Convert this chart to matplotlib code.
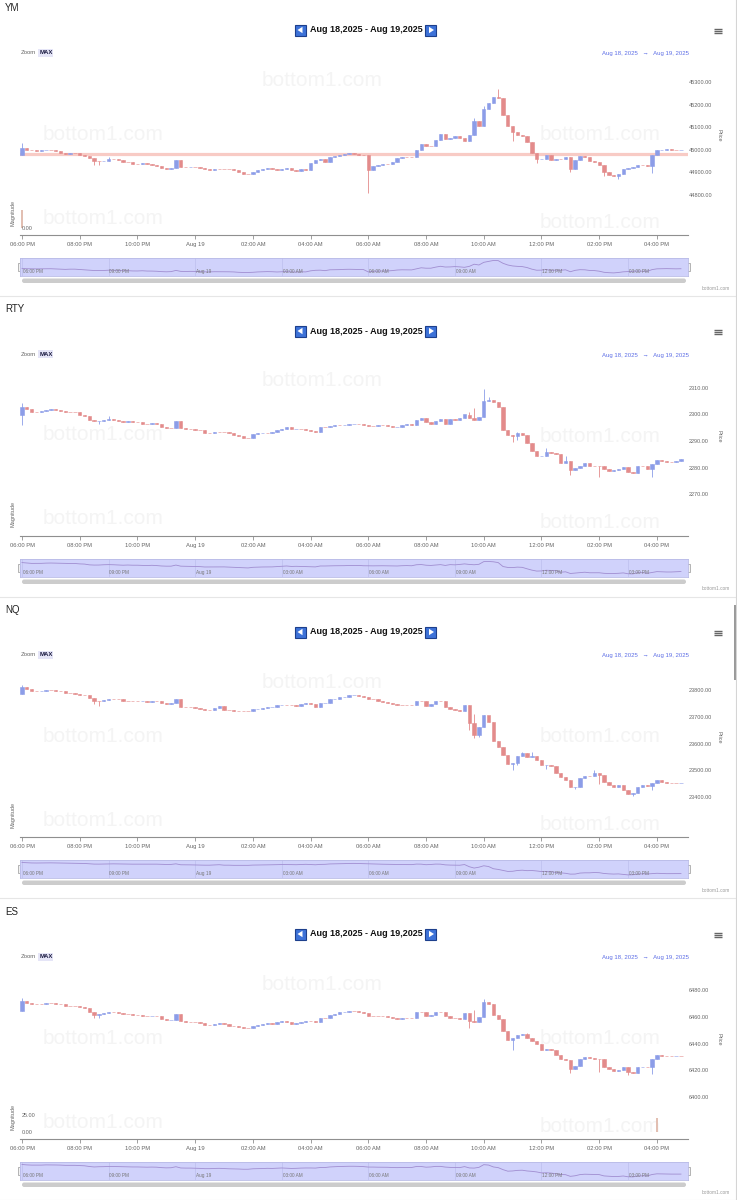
import numpy as np
import matplotlib
matplotlib.use("Agg")
import matplotlib.pyplot as plt
from matplotlib.patches import Rectangle, FancyBboxPatch, Polygon
from matplotlib.ticker import FixedLocator, FuncFormatter

W, H = 737, 1200
plt.rcParams['font.family'] = ['Liberation Sans', 'DejaVu Sans']

BLUE = "#8c9de8"
RED = "#e38b8b"
GREY = "#666666"

# x axis (hours after 06:00 PM, 10 minute candles)
hour_ticks = [0, 2, 4, 6, 8, 10, 12, 14, 16, 18, 20, 22]
hour_labels = ["06:00 PM", "08:00 PM", "10:00 PM", "Aug 19", "02:00 AM", "04:00 AM",
               "06:00 AM", "08:00 AM", "10:00 AM", "12:00 PM", "02:00 PM", "04:00 PM"]
nav_ticks = [0, 3, 6, 9, 12, 15, 18, 21]
nav_labels = ["06:00 PM", "09:00 PM", "Aug 19", "03:00 AM", "06:00 AM", "09:00 AM",
              "12:00 PM", "03:00 PM"]

# ---------------- YM ----------------
ym_open0 = 44975
ym_close = [45010, 45000, 44997, 44996, 44997, 45000, 45000, 44994, 44988, 44982,
            44988, 44988, 44979, 44973, 44962, 44950, 44950, 44951, 44959, 44959,
            44954, 44945, 44945, 44938, 44937, 44943, 44935, 44934, 44929, 44919,
            44914, 44919, 44953, 44926, 44923, 44926, 44925, 44919, 44913, 44911,
            44916, 44916, 44914, 44914, 44910, 44900, 44895, 44895, 44900, 44910,
            44914, 44919, 44916, 44909, 44914, 44920, 44909, 44906, 44913, 44911,
            44941, 44956, 44960, 44946, 44970, 44972, 44975, 44982, 44985, 44982,
            44979, 44976, 44910, 44928, 44934, 44937, 44937, 44948, 44964, 44970,
            44967, 44967, 44997, 45027, 45015, 45015, 45045, 45069, 45048, 45051,
            45060, 45052, 45040, 45067, 45127, 45105, 45180, 45207, 45232, 45228,
            45153, 45105, 45078, 45067, 45060, 45033, 44988, 44958, 44961, 44979,
            44955, 44961, 44958, 44970, 44916, 44955, 44973, 44970, 44952, 44948,
            44931, 44900, 44889, 44883, 44895, 44913, 44919, 44925, 44934, 44931,
            44928, 44976, 44997, 45000, 45003, 45000, 44997, 45000]
ym_wicks = [(0, 45030, None), (15, None, 44932), (16, None, 44932), (18, 44968, None),
            (72, None, 44808), (94, 45140, None), (96, 45195, None), (99, 45269, None),
            (102, None, 45040), (107, None, 44943), (114, None, 44900), (121, None, 44885),
            (124, None, 44870), (131, None, 44898)]
ym_ticks = [44800, 44900, 45000, 45100, 45200, 45300]
ym_ref = 44980
ym_mag = [(0, 26)]

# ---------------- RTY ----------------
rty_open0 = 2300.0
rty_close = [2302.9, 2301.9, 2301.1, 2301.1, 2301.2, 2301.7, 2301.9, 2301.6, 2301.2, 2300.9,
             2300.9, 2300.9, 2300.0, 2299.6, 2297.9, 2297.4, 2297.5, 2298.1, 2298.4, 2298.1,
             2297.5, 2297.1, 2297.5, 2297.1, 2297.1, 2296.6, 2296.3, 2296.9, 2296.3, 2295.4,
             2295.0, 2295.0, 2297.4, 2295.0, 2294.7, 2294.4, 2294.2, 2294.0, 2293.2, 2293.2,
             2293.4, 2293.4, 2293.4, 2292.9, 2292.3, 2291.7, 2291.3, 2291.1, 2292.5, 2292.9,
             2293.2, 2293.2, 2293.4, 2294.0, 2294.7, 2295.4, 2294.4, 2294.7, 2294.4, 2294.2,
             2293.8, 2293.4, 2295.4, 2295.4, 2295.7, 2295.9, 2295.9, 2296.1, 2296.5, 2296.6,
             2296.6, 2295.9, 2295.7, 2295.7, 2295.9, 2295.9, 2295.7, 2295.3, 2295.4, 2296.0,
             2296.3, 2295.9, 2298.1, 2298.6, 2297.1, 2296.6, 2297.5, 2298.4, 2296.6, 2298.4,
             2297.9, 2298.8, 2300.0, 2298.8, 2298.1, 2299.1, 2305.0, 2305.3, 2304.6, 2302.9,
             2294.2, 2292.2, 2291.9, 2292.9, 2292.4, 2289.2, 2286.3, 2284.2, 2284.5, 2286.0,
             2285.5, 2285.1, 2281.7, 2282.6, 2278.9, 2279.8, 2280.7, 2281.7, 2280.5, 2280.5,
             2280.5, 2279.3, 2278.8, 2278.9, 2279.3, 2280.2, 2278.3, 2278.0, 2280.7, 2280.7,
             2279.3, 2281.2, 2283.0, 2282.5, 2282.2, 2282.2, 2282.6, 2283.2]
rty_wicks = [(0, 2304.3, 2296.0), (16, None, 2296.3), (18, 2299.5, None), (93, 2300.8, None),
             (94, 2302.5, None), (96, 2309.6, None), (97, 2306.5, None), (102, None, 2289.8),
             (103, 2293.5, 2290.5), (109, 2287.5, None), (113, 2284.2, None),
             (114, None, 2277.0), (120, None, 2276.4), (131, None, 2276.4)]
rty_ticks = [2270, 2280, 2290, 2300, 2310]

# ---------------- NQ ----------------
nq_open0 = 23785
nq_close = [23812, 23805, 23797, 23795, 23797, 23801, 23800, 23797, 23797, 23790,
            23790, 23785, 23780, 23780, 23769, 23760, 23759, 23763, 23768, 23768,
            23765, 23760, 23760, 23758, 23758, 23760, 23755, 23760, 23758, 23753,
            23748, 23750, 23768, 23738, 23738, 23735, 23731, 23730, 23725, 23725,
            23733, 23740, 23725, 23725, 23720, 23720, 23720, 23720, 23728, 23730,
            23733, 23735, 23738, 23743, 23745, 23745, 23743, 23740, 23748, 23753,
            23746, 23738, 23750, 23753, 23765, 23768, 23773, 23775, 23781, 23783,
            23778, 23773, 23768, 23765, 23760, 23756, 23753, 23748, 23745, 23745,
            23745, 23743, 23760, 23758, 23740, 23748, 23760, 23758, 23735, 23728,
            23725, 23723, 23745, 23675, 23632, 23660, 23706, 23682, 23610, 23588,
            23557, 23523, 23528, 23553, 23563, 23548, 23553, 23538, 23519, 23521,
            23516, 23491, 23476, 23463, 23436, 23438, 23470, 23478, 23478, 23488,
            23482, 23457, 23445, 23438, 23443, 23428, 23411, 23416, 23438, 23445,
            23441, 23453, 23463, 23456, 23451, 23451, 23451, 23453]
nq_wicks = [(0, 23818, None), (15, None, 23748), (16, None, 23740), (93, None, 23650),
            (94, 23710, 23620), (95, None, 23625), (97, 23695, None), (102, None, 23500),
            (103, None, 23520), (104, 23570, None), (106, 23570, None), (109, None, 23505),
            (115, None, 23430), (119, 23500, None), (120, None, 23450), (127, None, 23405),
            (131, None, 23425)]
nq_ticks = [23400, 23500, 23600, 23700, 23800]

# ---------------- ES ----------------
es_open0 = 6464.5
es_close = [6471.9, 6470.1, 6469.2, 6469.2, 6469.2, 6470.1, 6470.1, 6469.7, 6469.2, 6468.2,
            6468.2, 6468.2, 6467.2, 6466.2, 6463.2, 6461.2, 6462.2, 6462.5, 6463.5, 6463.2,
            6462.7, 6462.0, 6461.7, 6461.2, 6461.2, 6460.7, 6460.2, 6460.7, 6460.2, 6458.3,
            6457.3, 6457.8, 6462.2, 6456.8, 6456.3, 6456.3, 6455.8, 6455.0, 6453.8, 6453.8,
            6454.8, 6455.3, 6454.3, 6453.3, 6452.8, 6452.3, 6451.3, 6451.3, 6453.3, 6453.8,
            6454.3, 6455.3, 6454.8, 6455.8, 6456.8, 6455.8, 6454.8, 6455.3, 6456.3, 6456.8,
            6456.8, 6456.3, 6458.8, 6458.8, 6461.2, 6462.2, 6463.2, 6463.7, 6464.2, 6464.2,
            6463.7, 6462.7, 6460.7, 6460.7, 6460.2, 6460.2, 6459.8, 6458.8, 6458.3, 6458.8,
            6458.8, 6458.8, 6463.2, 6463.2, 6460.2, 6461.2, 6463.7, 6463.7, 6460.7, 6459.3,
            6458.8, 6458.3, 6462.7, 6457.0, 6456.3, 6459.5, 6471.1, 6469.4, 6461.2, 6458.3,
            6449.6, 6442.9, 6443.9, 6446.4, 6447.1, 6443.9, 6442.2, 6439.7, 6435.5, 6436.0,
            6434.8, 6431.5, 6428.6, 6427.8, 6420.6, 6423.1, 6428.1, 6429.8, 6429.1, 6428.6,
            6428.1, 6422.4, 6421.1, 6419.7, 6420.1, 6422.1, 6418.7, 6418.2, 6422.1, 6422.6,
            6422.4, 6428.6, 6431.5, 6431.0, 6430.5, 6430.3, 6430.5, 6430.3]
es_wicks = [(0, 6474.0, None), (15, None, 6458.8), (16, None, 6458.8), (93, 6463.0, 6451.3),
            (94, 6465.0, None), (96, 6473.5, None), (97, 6471.0, None), (102, None, 6435.1),
            (105, 6448.0, None), (114, None, 6418.0), (120, None, 6418.5), (126, None, 6416.3),
            (131, None, 6417.3)]
es_ticks = [6400, 6420, 6440, 6460, 6480]
es_mag = [(132, 20)]

PX_PER_HOUR = 28.86
XLIM = (-2 / PX_PER_HOUR, 666 / PX_PER_HOUR)

fig = plt.figure(figsize=(W / 100, H / 100), dpi=100)
ui = fig.add_axes([0, 0, 1, 1], zorder=-1)
ui.set_xlim(0, W)
ui.set_ylim(H, 0)
ui.axis("off")


def box(left, top, right, bottom):
    return [left / W, 1 - bottom / H, (right - left) / W, (bottom - top) / H]


def lim_from(va, ya, vb, yb, top, bottom):
    # value va sits at pixel row ya, vb at yb; return (ymin, ymax) for an axes top..bottom
    k = (va - vb) / (yb - ya)
    return vb - (bottom - yb) * k, va + (ya - top) * k


def header(off, name):
    ui.text(5, off + 8, name, fontsize=7, color="#222", va="center")
    ui.text(366, off + 30, "Aug 18,2025 - Aug 19,2025", fontsize=6.5, fontweight="bold",
            ha="center", va="center", color="#111")
    for x0, pts in [(295, [(297.5, 30), (302.5, 26.8), (302.5, 33.2)]),
                    (425.5, [(434, 30), (429, 26.8), (429, 33.2)])]:
        ui.add_patch(Rectangle((x0, off + 24.5), 11, 11, facecolor="#3d72d8",
                               edgecolor="#1d3f8c", lw=0.8))
        ui.add_patch(Polygon([(px, off + py) for px, py in pts], closed=True,
                             facecolor="white", edgecolor="none"))
    for yy in (28.5, 30.8, 33.1):
        ui.plot([714, 722], [off + yy] * 2, color=GREY, lw=1.0, solid_capstyle="butt")
    ui.text(21, off + 53, "Zoom", fontsize=4.3, color=GREY, va="center")
    ui.add_patch(Rectangle((38, off + 49), 15, 8, facecolor="#e5e5f7", edgecolor="none"))
    ui.text(39.3, off + 53, "MAX", fontsize=4.3, fontweight="bold", color="#1a1a40",
            va="center")
    ui.text(689, off + 54, "Aug 18, 2025   \u2192   Aug 19, 2025", fontsize=4.3,
            color="#5d6ee6", ha="right", va="center",
            family=["Liberation Sans", "DejaVu Sans"])
    for wx, wy in [(322, 80), (103, 134), (600, 135), (103, 218), (600, 222)]:
        ui.text(wx, off + wy, "bottom1.com", fontsize=15, color="#f4f4f4",
                ha="center", va="center")
    ui.plot([0, W], [off + 295.5] * 2, color="#e6e6e6", lw=0.8)


def panel(off, name, open0, close, wicks, ticks, tick_px, ref=None, mag=None, mag_ticks=()):
    header(off, name)
    c = np.array(close, dtype=float)
    o = np.r_[open0, c[:-1]]
    hi = np.maximum(o, c)
    lo = np.minimum(o, c)
    for i, h, l in wicks:
        if h is not None:
            hi[i] = h
        if l is not None:
            lo[i] = l
    t = np.arange(len(c)) / 6.0
    col = np.where(c > o, BLUE, RED)

    ax = fig.add_axes(box(20, off + 62, 688, off + 205))
    ax.patch.set_visible(False)
    for s in ax.spines.values():
        s.set_visible(False)
    ax.set_xlim(*XLIM)
    ax.set_ylim(*lim_from(ticks[-1], off + tick_px[0], ticks[0], off + tick_px[1],
                          off + 62, off + 205))
    if ref is not None:
        ax.axhline(ref, color="#f8cbc5", lw=2.3, zorder=1)
    ax.vlines(t, lo, hi, colors=col, lw=0.6, zorder=2)
    ax.bar(t, c - o, bottom=o, width=0.7 / 6, color=col, edgecolor=col, lw=0.4, zorder=3)
    ax.set_xticks([])
    ax.yaxis.tick_right()
    ax.set_yticks(ticks)
    ax.yaxis.set_major_formatter(FuncFormatter(lambda v, p: f"{v:.2f}"))
    ax.tick_params(axis="y", length=0, pad=0.5, labelsize=4, labelcolor=GREY)
    ui.text(719, off + 135, "Price", fontsize=4, color=GREY, rotation=270,
            ha="center", va="center")

    mx = fig.add_axes(box(20, off + 205, 688, off + 235))
    mx.patch.set_visible(False)
    for s in ("top", "right", "left"):
        mx.spines[s].set_visible(False)
    mx.spines["bottom"].set_color("#8f8f8f")
    mx.spines["bottom"].set_linewidth(0.8)
    mx.set_xlim(*XLIM)
    mx.set_ylim(*lim_from(25, off + 211, 0, off + 228, off + 205, off + 235))
    if mag:
        mi = [m[0] / 6.0 for m in mag]
        mv = [m[1] for m in mag]
        mx.bar(mi, mv, width=0.25 / 6, color="#e2bfb2", edgecolor="none")
    mx.xaxis.set_major_locator(FixedLocator(hour_ticks))
    mx.set_xticklabels(hour_labels)
    mx.tick_params(axis="x", length=3, width=0.6, color="#8f8f8f", labelsize=4.2,
                   labelcolor=GREY, pad=2)
    mx.set_yticks(list(mag_ticks))
    mx.set_yticklabels([f"{v:.2f}" for v in mag_ticks])
    mx.tick_params(axis="y", length=0, pad=-1.5, labelsize=4, labelcolor=GREY)
    for lab in mx.get_yticklabels():
        lab.set_horizontalalignment("left")
    ui.text(13, off + 213, "Magnitude", fontsize=4, color=GREY, rotation=90,
            ha="center", va="center")

    # navigator
    nv = fig.add_axes(box(20, off + 258, 688, off + 276))
    nv.set_facecolor("#d0d2fb")
    for s in nv.spines.values():
        s.set_color("#b9bbe6")
        s.set_linewidth(0.6)
    nv.set_xlim(*XLIM)
    r = c.max() - c.min()
    nv.set_ylim(c.min() - 0.25 * r, c.max() + 0.2 * r)
    for xt, lb in zip(nav_ticks, nav_labels):
        nv.axvline(xt, color="#bcbfee", lw=0.5, zorder=0)
        nv.text(xt + 0.03, 0.12, lb, transform=nv.get_xaxis_transform(), fontsize=3.4,
                color="#777", ha="left", va="bottom")
    nv.plot(t, c, color="#a08dd0", lw=0.6)
    nv.set_xticks([])
    nv.set_yticks([])
    for hx in (18, 685):
        ui.add_patch(Rectangle((hx, off + 262.5), 5, 8, facecolor="#f2f2f2",
                               edgecolor="#999", lw=0.5))
    ui.add_patch(FancyBboxPatch((22, off + 278.5), 664, 4.5,
                                boxstyle="round,pad=0,rounding_size=2.2",
                                facecolor="#cccccc", edgecolor="none"))
    ui.text(730, off + 288, "bottom1.com", fontsize=3.4, color="#999", ha="right",
            va="center")


panel(0, "YM", ym_open0, ym_close, ym_wicks, ym_ticks, (82, 195), ref=ym_ref,
      mag=ym_mag, mag_ticks=[0])
panel(301, "RTY", rty_open0, rty_close, rty_wicks, rty_ticks, (87, 193))
panel(602, "NQ", nq_open0, nq_close, nq_wicks, nq_ticks, (88, 195))
panel(904, "ES", es_open0, es_close, es_wicks, es_ticks, (86, 193), mag=es_mag,
      mag_ticks=[0, 25])

# page scrollbar on the right edge
ui.plot([736, 736], [0, H], color="#d5d5d5", lw=0.8)
ui.add_patch(Rectangle((734.5, 605), 2.5, 75, facecolor="#9a9a9a", edgecolor="none"))

fig.savefig("out.png", dpi=100)
